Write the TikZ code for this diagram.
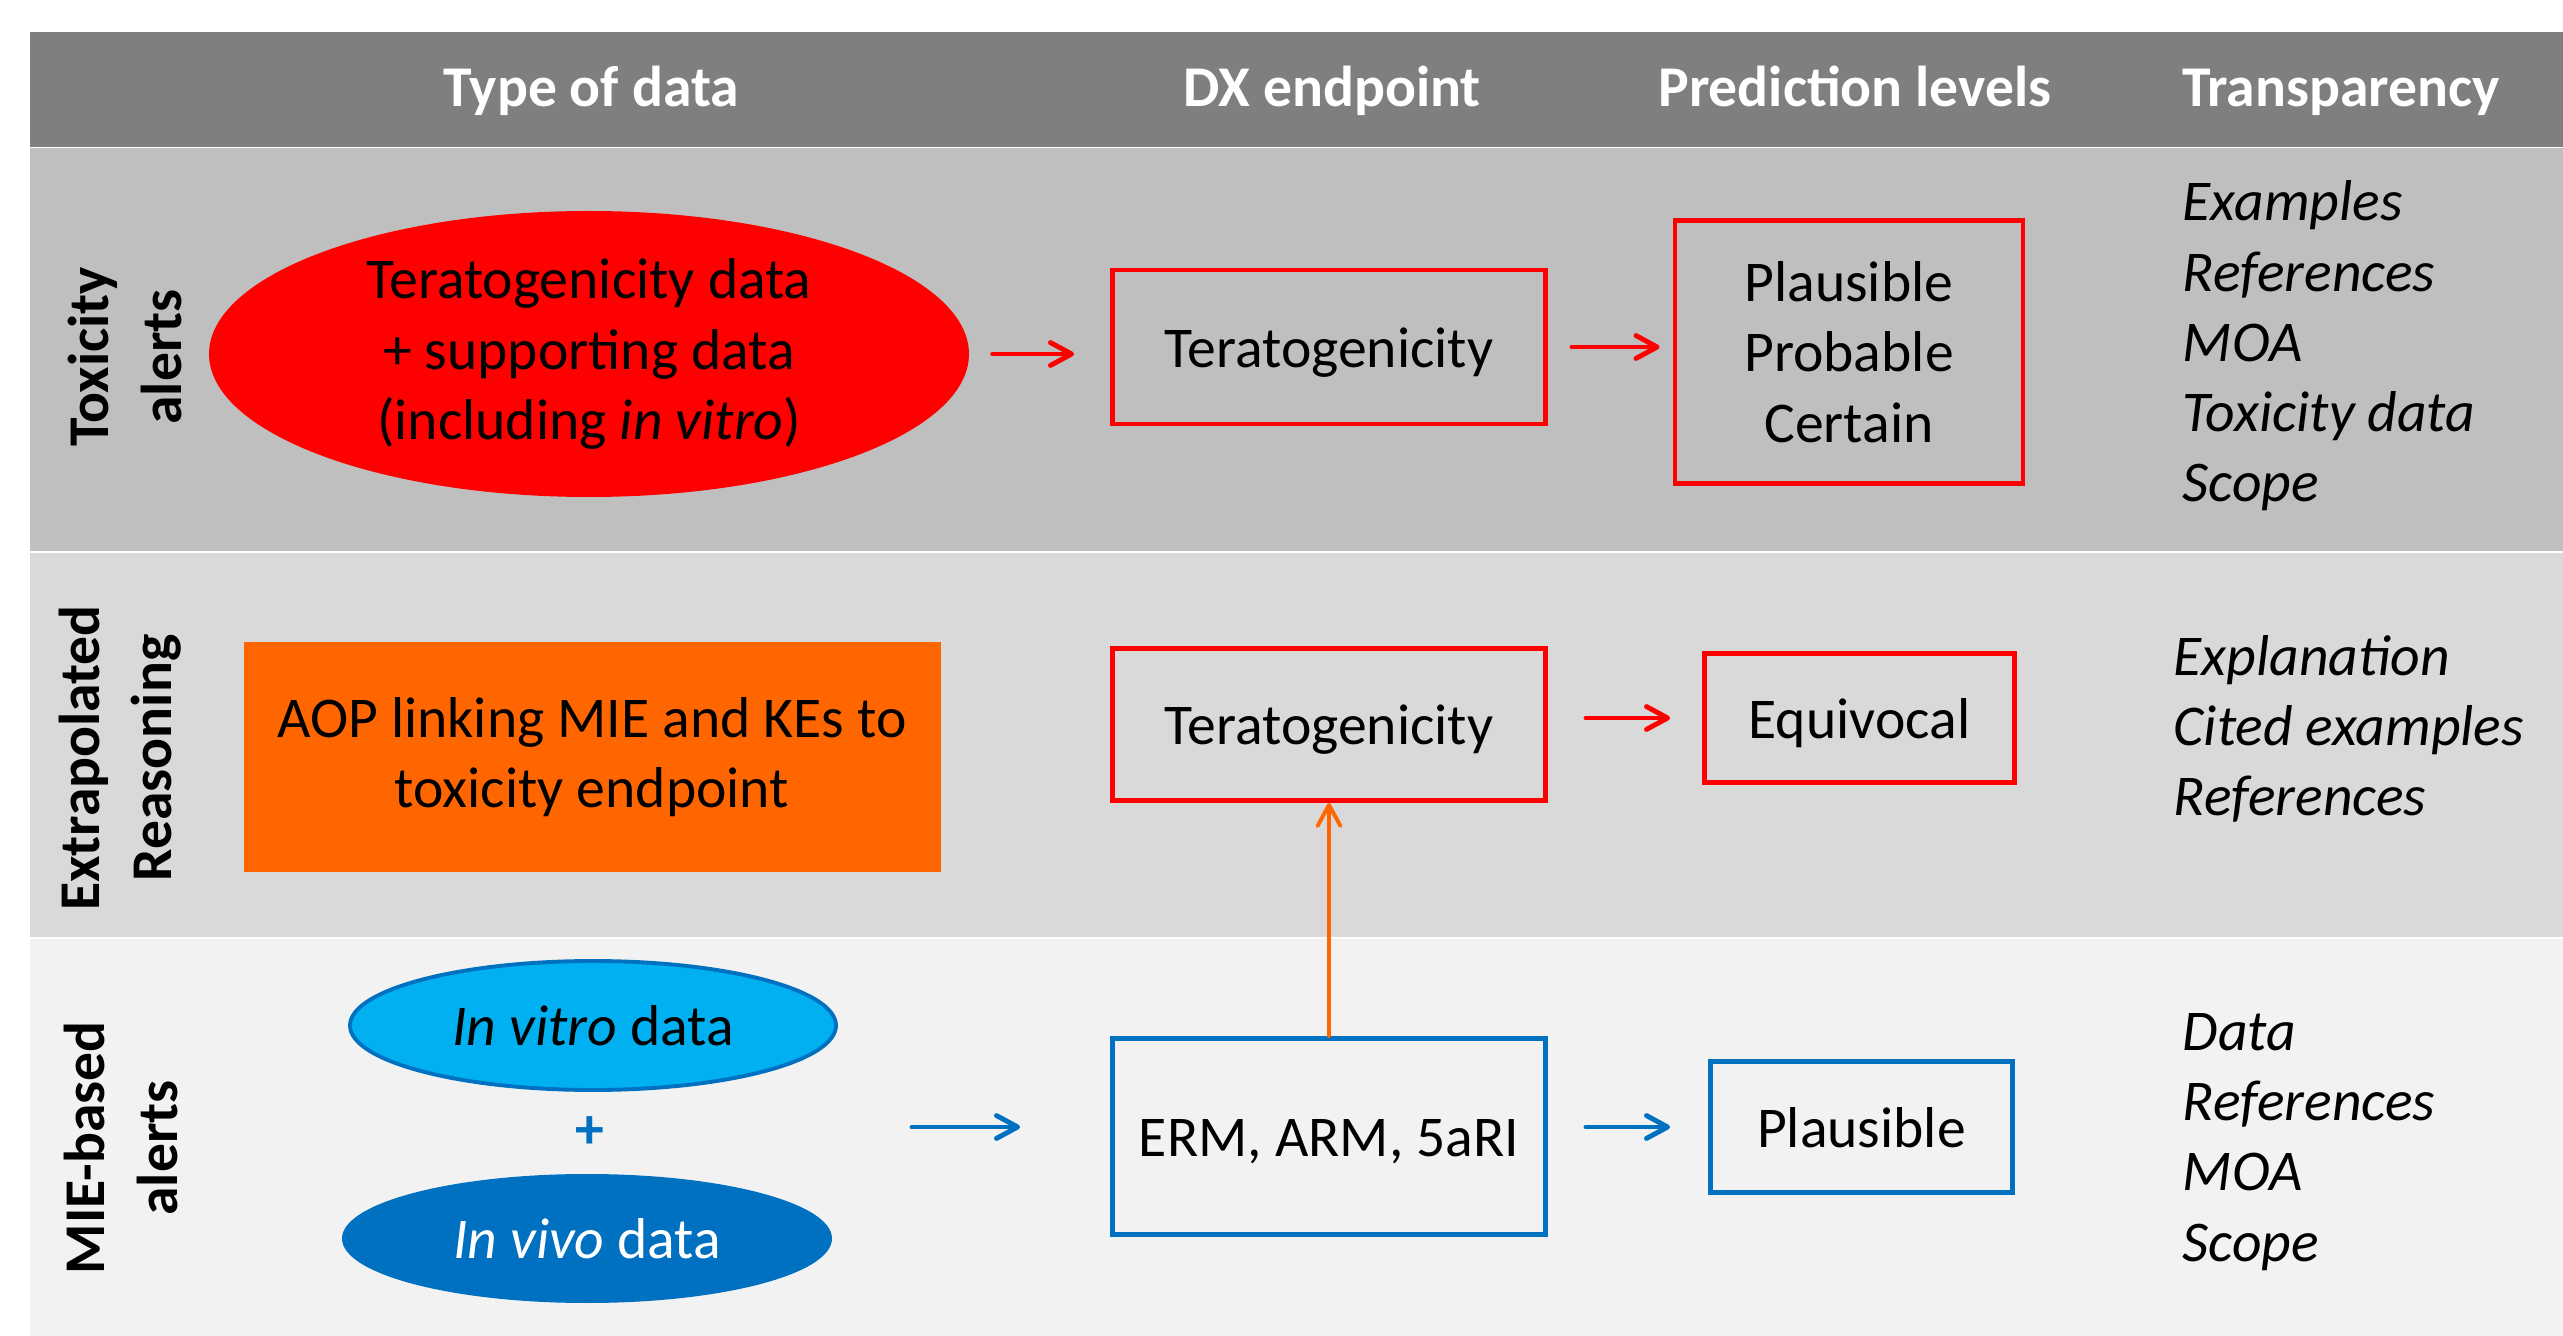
\documentclass[tikz,border=0pt]{standalone}
\usepackage{fontspec}
\setmainfont{Carlito}
\usetikzlibrary{shapes.geometric,arrows.meta}

\definecolor{hdrgray}{HTML}{7F7F7F}
\definecolor{bandA}{HTML}{BFBFBF}
\definecolor{bandB}{HTML}{D9D9D9}
\definecolor{bandC}{HTML}{F2F2F2}
\definecolor{alertred}{HTML}{FF0000}
\definecolor{aoporange}{HTML}{FF6600}
\definecolor{vitroblue}{HTML}{00B0F0}
\definecolor{mieblue}{HTML}{0070C0}

\begin{document}
\begin{tikzpicture}[x=0.1mm,y=-0.1mm,
    every node/.style={font=\fontsize{16.4}{20}\selectfont,inner sep=0pt},
    hdr/.style={text=white,font=\fontsize{16.4}{20}\selectfont\bfseries,anchor=base},
    rowlbl/.style={rotate=90,align=center,font=\fontsize{16.4}{20.5}\selectfont\bfseries},
    endbox/.style={draw,line width=1.4pt,rectangle,align=center},
    onebox/.style={endbox,text height=14.8pt,text depth=3.3pt},
    transp/.style={anchor=base west,align=left,font=\fontsize{16.4}{20}\selectfont\itshape},
    flow/.style={line width=1.4pt,line cap=round,-{Straight Barb[length=6pt,width=6.5pt,round]}}]
  \useasboundingbox (0,0) rectangle (2563,1336);

  % Bands: header and the three kinds of alert
  \fill[hdrgray] (30,32) rectangle (2563,147);
  \fill[bandA] (30,148) rectangle (2563,551);
  \fill[bandB] (30,553) rectangle (2563,937);
  \fill[bandC] (30,939) rectangle (2563,1336);

  % Column headings
  \node[hdr] (hdata) at (591,107) {Type of data};
  \node[hdr] (hdx) at (1332,107) {DX endpoint};
  \node[hdr] (hpred) at (1855,107) {Prediction levels};
  \node[hdr] (htransp) at (2341,107) {Transparency};

  % Row labels
  \node[rowlbl] (toxlbl) at (125,357) {Toxicity\\alerts};
  \node[rowlbl] (extlbl) at (120,758) {Extrapolated\\Reasoning};
  \node[rowlbl] (mielbl) at (121,1148) {MIE-based\\alerts};

  % Toxicity alerts
  \node[ellipse,fill=alertred,minimum width=76mm,minimum height=28.6mm,align=center] (teradata) at (589,354)
    {Teratogenicity data\\+ supporting data\\(including \textit{in vitro})};
  \node[onebox,draw=alertred,minimum width=43.3mm,minimum height=15.4mm] (tera1) at (1329,347) {Teratogenicity};
  \node[endbox,draw=alertred,minimum width=34.8mm,minimum height=26.3mm] (levels) at (1849,352)
    {Plausible\\Probable\\Certain};
  % base anchor sits on the last line
  \node[transp] (trtox) at (2182,502) {Examples\\References\\MOA\\Toxicity data\\Scope};
  \draw[flow,alertred,shorten <=2.3mm,shorten >=3.6mm] (teradata.east) -- (teradata.east -| tera1.west);
  \draw[flow,alertred,shorten <=2.4mm,shorten >=1.3mm] (tera1.east) -- (tera1.east -| levels.west);

  % Extrapolated reasoning
  \node[fill=aoporange,minimum width=69.7mm,minimum height=23mm,align=center] (aop) at (592,757)
    {AOP linking MIE and KEs to\\toxicity endpoint};
  \node[onebox,draw=alertred,minimum width=43.3mm,minimum height=15.2mm] (tera2) at (1329,724.5) {Teratogenicity};
  \node[onebox,draw=alertred,minimum width=31mm,minimum height=12.9mm] (equiv) at (1859.5,718) {Equivocal};
  \node[transp] (trext) at (2173,816) {Explanation\\Cited examples\\References};
  \draw[flow,alertred,shorten <=3.8mm,shorten >=3.2mm] (tera2.east |- equiv.west) -- (equiv.west);

  % MIE-based alerts
  \node[ellipse,draw=mieblue,line width=1.1pt,fill=vitroblue,minimum width=48.6mm,minimum height=12.9mm] (vitro)
    at (593,1025.5) {\textit{In vitro} data};
  \node[text=mieblue,font=\fontsize{16.4}{20}\selectfont\bfseries] (plus) at (590,1133) {+};
  \node[ellipse,fill=mieblue,text=white,minimum width=49mm,minimum height=12.9mm] (vivo)
    at (587,1238.5) {\textit{In vivo} data};
  \node[onebox,draw=mieblue,minimum width=43.3mm,minimum height=19.6mm] (erm) at (1329,1136.5) {ERM, ARM, 5aRI};
  \node[onebox,draw=mieblue,minimum width=30.2mm,minimum height=13.1mm] (plaus) at (1861.5,1127) {Plausible};
  \node[transp] (trmie) at (2182,1261) {Data\\References\\MOA\\Scope};
  \coordinate (mieout) at (912,1127);
  \draw[flow,mieblue,shorten >=9mm] (mieout) -- (mieout -| erm.west);
  \draw[flow,mieblue,shorten <=3.8mm,shorten >=3.8mm] (erm.east |- plaus.west) -- (plaus.west);
  \draw[flow,aoporange,line width=1.1pt] (erm.north) -- (tera2.south);
\end{tikzpicture}
\end{document}
